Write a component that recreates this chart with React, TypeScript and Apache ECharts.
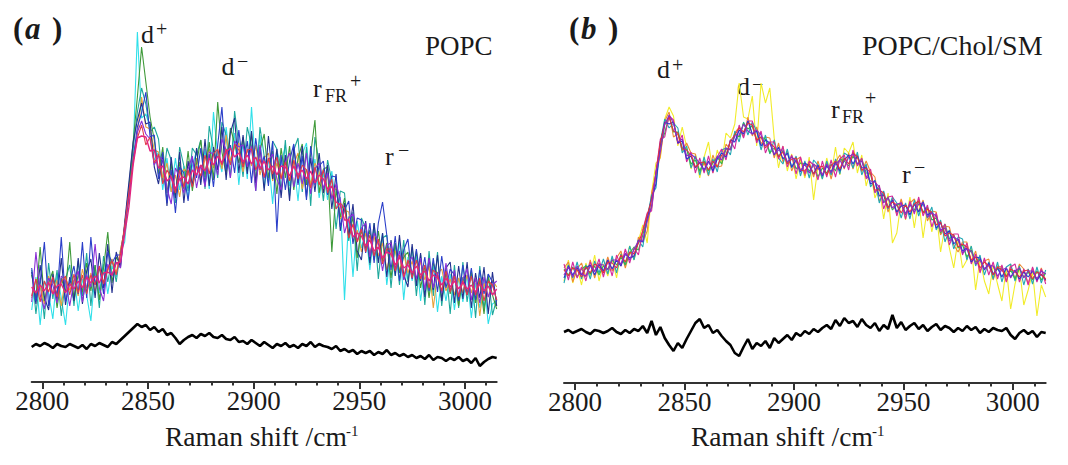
import React, { useEffect, useRef } from "react";
import * as echarts from "echarts";

// Raman shift sampling (cm^-1)
const WAVENUMBERS = [
  2795, 2797, 2799, 2801, 2803, 2805, 2807, 2809, 2811, 2813,
  2815, 2817, 2819, 2821, 2823, 2825, 2827, 2829, 2831, 2833,
  2835, 2837, 2839, 2841, 2843, 2845, 2847, 2849, 2851, 2853,
  2855, 2857, 2859, 2861, 2863, 2865, 2867, 2869, 2871, 2873,
  2875, 2877, 2879, 2881, 2883, 2885, 2887, 2889, 2891, 2893,
  2895, 2897, 2899, 2901, 2903, 2905, 2907, 2909, 2911, 2913,
  2915, 2917, 2919, 2921, 2923, 2925, 2927, 2929, 2931, 2933,
  2935, 2937, 2939, 2941, 2943, 2945, 2947, 2949, 2951, 2953,
  2955, 2957, 2959, 2961, 2963, 2965, 2967, 2969, 2971, 2973,
  2975, 2977, 2979, 2981, 2983, 2985, 2987, 2989, 2991, 2993,
  2995, 2997, 2999, 3001, 3003, 3005, 3007, 3009, 3011, 3013, 3015,
];

const MAJOR_TICKS = [2800, 2850, 2900, 2950, 3000];
const MINOR_TICKS = [
  2800, 2810, 2820, 2830, 2840, 2850, 2860, 2870, 2880, 2890, 2900,
  2910, 2920, 2930, 2940, 2950, 2960, 2970, 2980, 2990, 3000, 3010,
];

// Panel (a) POPC – repeated spectra (arbitrary intensity units)
const A_CYAN = [
  72, 105, 57, 101, 89, 63, 109, 84, 57, 101,
  106, 71, 103, 87, 61, 110, 89, 118, 88, 116,
  105, 130, 140, 190, 230, 350, 264, 268, 255, 222,
  230, 192, 224, 190, 224, 192, 216, 183, 216, 231,
  200, 233, 193, 270, 227, 210, 255, 219, 249, 197,
  240, 203, 275, 211, 247, 194, 224, 178, 231, 217,
  237, 196, 220, 181, 228, 239, 194, 223, 184, 209,
  182, 211, 173, 185, 82, 166, 105, 161, 134, 151,
  112, 152, 121, 149, 97, 132, 106, 141, 82, 125,
  101, 126, 81, 115, 86, 116, 70, 106, 81, 108,
  72, 104, 80, 107, 64, 99, 74, 103, 58, 78, 81,
];
const A_TEAL = [
  112, 68, 104, 63, 119, 83, 112, 66, 103, 117,
  76, 121, 86, 129, 76, 117, 74, 126, 100, 123,
  100, 132, 153, 192, 233, 270, 294, 278, 250, 255,
  243, 200, 234, 222, 179, 235, 216, 191, 234, 227,
  242, 193, 256, 232, 204, 260, 247, 204, 271, 237,
  205, 255, 236, 191, 255, 226, 199, 241, 233, 190,
  242, 186, 232, 244, 190, 235, 176, 245, 219, 181,
  222, 201, 153, 191, 189, 141, 170, 111, 164, 154,
  117, 159, 103, 144, 147, 94, 139, 97, 142, 100,
  135, 86, 127, 77, 131, 86, 130, 76, 114, 68,
  117, 74, 120, 80, 112, 64, 116, 73, 108, 67, 83,
];
const A_GREEN = [
  107, 85, 135, 81, 99, 111, 74, 104, 90, 140,
  81, 108, 90, 119, 91, 117, 82, 114, 150, 99,
  125, 117, 157, 195, 240, 285, 335, 300, 265, 242,
  208, 235, 189, 218, 187, 220, 193, 231, 191, 219,
  242, 205, 240, 202, 280, 230, 207, 254, 239, 219,
  245, 211, 249, 199, 232, 248, 204, 231, 188, 234,
  204, 236, 192, 224, 238, 197, 228, 262, 189, 213,
  215, 130, 193, 165, 184, 144, 165, 124, 152, 134,
  152, 122, 151, 121, 139, 104, 139, 109, 125, 130,
  105, 131, 94, 117, 84, 119, 107, 83, 111, 88,
  109, 76, 105, 87, 109, 79, 102, 68, 105, 87, 73,
];
const A_ORANGE = [
  84, 103, 95, 78, 106, 88, 102, 76, 105, 92,
  102, 86, 113, 94, 109, 90, 114, 100, 111, 123,
  109, 132, 153, 185, 225, 248, 285, 255, 253, 232,
  230, 204, 219, 190, 207, 185, 213, 209, 198, 224,
  202, 223, 233, 214, 232, 213, 247, 221, 235, 239,
  210, 233, 216, 237, 207, 224, 229, 201, 219, 204,
  224, 201, 218, 229, 193, 213, 198, 219, 210, 189,
  207, 185, 195, 163, 172, 170, 140, 152, 130, 149,
  129, 146, 126, 139, 112, 130, 131, 111, 129, 109,
  121, 101, 121, 102, 116, 74, 108, 113, 91, 103,
  87, 104, 89, 107, 89, 104, 66, 99, 85, 102, 95,
];
const A_NAVY = [
  110, 78, 117, 85, 72, 108, 82, 124, 77, 105,
  81, 124, 78, 111, 123, 84, 129, 94, 138, 89,
  130, 114, 160, 200, 240, 262, 279, 258, 260, 215,
  198, 225, 176, 225, 184, 230, 179, 221, 196, 234,
  197, 243, 196, 235, 212, 255, 202, 249, 264, 209,
  247, 208, 251, 199, 235, 191, 246, 203, 233, 184,
  227, 181, 235, 199, 236, 185, 224, 190, 229, 189,
  217, 173, 208, 151, 179, 146, 178, 131, 122, 161,
  119, 159, 119, 149, 105, 142, 106, 147, 107, 95,
  138, 96, 129, 85, 124, 92, 127, 81, 114, 120,
  79, 116, 83, 120, 74, 109, 84, 115, 68, 110, 76,
];
const A_BLUE = [
  114, 81, 100, 140, 76, 105, 86, 145, 80, 100,
  116, 88, 140, 84, 145, 97, 116, 88, 130, 119,
  127, 127, 155, 185, 223, 255, 269, 290, 245, 247,
  203, 230, 179, 212, 169, 215, 209, 181, 224, 204,
  234, 197, 228, 195, 237, 275, 212, 237, 209, 252,
  215, 241, 199, 244, 212, 226, 196, 241, 150, 227,
  192, 221, 238, 197, 226, 182, 236, 197, 216, 221,
  187, 206, 205, 155, 172, 181, 138, 164, 162, 129,
  159, 119, 159, 180, 147, 112, 146, 101, 132, 143,
  103, 133, 101, 125, 91, 124, 90, 126, 94, 113,
  107, 81, 117, 87, 114, 82, 112, 88, 108, 100, 81,
];
const A_PURPLE = [
  80, 130, 87, 73, 104, 97, 79, 106, 101, 76,
  101, 111, 80, 107, 95, 138, 94, 81, 118, 106,
  120, 114, 155, 188, 220, 250, 261, 248, 243, 217,
  226, 222, 194, 178, 214, 205, 189, 213, 226, 194,
  217, 195, 230, 228, 207, 243, 232, 204, 241, 235,
  237, 215, 236, 191, 237, 204, 222, 228, 203, 192,
  220, 229, 195, 219, 198, 229, 188, 213, 219, 193,
  209, 183, 198, 183, 149, 164, 168, 141, 154, 159,
  125, 149, 139, 111, 137, 139, 113, 131, 102, 120,
  125, 103, 124, 92, 124, 94, 110, 89, 119, 90,
  112, 86, 103, 113, 82, 104, 79, 105, 85, 97, 101,
];
const A_RED = [
  86, 103, 80, 101, 90, 105, 85, 100, 106, 87,
  108, 89, 107, 88, 107, 97, 116, 98, 113, 121,
  107, 128, 157, 190, 220, 244, 257, 237, 245, 219,
  228, 198, 212, 205, 189, 212, 195, 212, 195, 216,
  206, 227, 208, 228, 233, 217, 233, 217, 238, 232,
  215, 232, 233, 212, 223, 205, 224, 208, 225, 203,
  220, 201, 222, 203, 217, 212, 194, 215, 197, 212,
  189, 203, 173, 179, 174, 144, 158, 140, 153, 130,
  147, 126, 143, 118, 133, 133, 111, 127, 105, 122,
  104, 122, 103, 117, 94, 112, 107, 91, 111, 90,
  106, 85, 101, 87, 106, 87, 104, 81, 101, 97, 82,
];
const A_MAGENTA = [
  95, 89, 97, 91, 100, 88, 96, 98, 89, 98,
  93, 101, 94, 105, 99, 106, 99, 109, 110, 107,
  119, 120, 148, 175, 217, 244, 246, 245, 231, 232,
  214, 216, 201, 205, 193, 203, 205, 198, 212, 207,
  217, 211, 224, 217, 226, 219, 230, 234, 225, 229,
  220, 227, 218, 225, 213, 221, 212, 216, 207, 216,
  215, 206, 216, 207, 212, 203, 211, 199, 207, 203,
  193, 196, 180, 177, 162, 162, 145, 149, 146, 136,
  142, 131, 135, 124, 130, 128, 117, 125, 114, 117,
  109, 116, 107, 111, 101, 107, 104, 97, 104, 95,
  101, 93, 100, 93, 97, 90, 98, 91, 96, 87, 93,
];
const A_RESIDUAL = [
  35, 38, 36, 39, 37, 34, 38, 36, 35, 38,
  36, 34, 37, 33, 38, 36, 39, 37, 35, 40,
  38, 42, 46, 50, 54, 58, 55, 57, 52, 55,
  50, 53, 47, 49, 44, 38, 42, 45, 47, 44,
  48, 46, 49, 45, 44, 47, 43, 42, 45, 40,
  41, 38, 42, 39, 36, 40, 37, 34, 38, 36,
  39, 35, 37, 34, 38, 36, 40, 35, 38, 36,
  35, 33, 36, 31, 33, 30, 32, 28, 31, 29,
  31, 27, 30, 28, 32, 27, 29, 26, 28, 25,
  27, 24, 26, 23, 27, 22, 25, 24, 21, 24,
  22, 25, 21, 23, 19, 24, 16, 20, 23, 25, 24,
];

// Panel (b) POPC/Chol/SM – repeated spectra
const B_YELLOW = [
  102, 123, 100, 116, 98, 120, 107, 128, 102, 119,
  107, 124, 105, 130, 119, 137, 123, 142, 158, 140,
  190, 220, 225, 264, 276, 267, 237, 256, 236, 214,
  228, 205, 226, 241, 210, 233, 220, 250, 245, 259,
  300, 266, 264, 287, 237, 300, 280, 295, 245, 215,
  237, 212, 229, 204, 223, 205, 226, 183, 217, 204,
  225, 208, 236, 208, 235, 230, 241, 210, 228, 197,
  213, 185, 196, 164, 190, 140, 150, 182, 163, 186,
  155, 184, 145, 176, 151, 171, 131, 157, 135, 115,
  144, 115, 123, 137, 93, 124, 102, 89, 118, 99,
  82, 115, 74, 99, 115, 78, 93, 111, 67, 98, 86,
];
const B_ORANGE = [
  115, 121, 101, 114, 120, 106, 123, 105, 120, 111,
  126, 112, 125, 132, 115, 131, 124, 146, 141, 152,
  190, 209, 227, 262, 271, 246, 249, 232, 240, 230,
  229, 211, 220, 207, 228, 216, 217, 239, 233, 250,
  256, 246, 266, 247, 256, 239, 246, 245, 225, 240,
  221, 232, 212, 223, 226, 207, 220, 206, 222, 207,
  221, 204, 221, 228, 214, 230, 214, 228, 211, 222,
  211, 206, 182, 189, 171, 184, 169, 184, 168, 180,
  184, 171, 183, 162, 172, 171, 148, 157, 156, 138,
  131, 141, 141, 121, 132, 112, 122, 124, 103, 117,
  116, 102, 118, 104, 119, 114, 99, 115, 102, 115, 102,
];
const B_TEAL = [
  100, 118, 105, 121, 104, 118, 104, 122, 110, 124,
  109, 127, 110, 129, 118, 137, 123, 143, 136, 165,
  188, 195, 241, 264, 255, 260, 255, 230, 237, 215,
  227, 208, 226, 208, 224, 211, 233, 235, 228, 252,
  241, 261, 248, 261, 252, 233, 248, 229, 243, 225,
  219, 234, 215, 227, 207, 222, 205, 223, 218, 204,
  222, 208, 224, 209, 230, 227, 215, 231, 208, 219,
  196, 203, 180, 192, 174, 186, 180, 165, 180, 164,
  183, 167, 181, 165, 176, 153, 163, 141, 153, 134,
  146, 144, 123, 137, 117, 128, 108, 121, 104, 121,
  101, 116, 119, 102, 117, 98, 114, 99, 116, 100, 113,
];
const B_GREEN = [
  114, 108, 116, 106, 114, 117, 109, 117, 108, 117,
  114, 123, 118, 126, 118, 130, 136, 133, 148, 166,
  175, 209, 238, 250, 267, 251, 251, 235, 234, 219,
  223, 212, 222, 212, 220, 226, 219, 234, 234, 249,
  246, 260, 254, 257, 242, 246, 244, 230, 235, 227,
  232, 220, 227, 214, 220, 219, 212, 218, 206, 215,
  210, 219, 212, 224, 222, 217, 227, 219, 224, 210,
  209, 191, 195, 181, 186, 173, 178, 179, 168, 178,
  173, 182, 171, 176, 163, 165, 150, 159, 144, 148,
  135, 138, 126, 133, 121, 124, 114, 119, 108, 114,
  115, 107, 113, 104, 115, 106, 111, 103, 112, 103, 110,
];
const B_MAGENTA = [
  119, 103, 121, 105, 116, 102, 121, 111, 124, 106,
  123, 107, 128, 117, 134, 120, 135, 128, 153, 170,
  172, 211, 244, 246, 267, 263, 239, 248, 221, 231,
  210, 225, 210, 227, 210, 226, 234, 223, 243, 234,
  258, 245, 262, 262, 240, 252, 230, 241, 241, 224,
  237, 216, 228, 209, 226, 209, 222, 218, 203, 222,
  206, 223, 206, 224, 228, 213, 233, 217, 225, 204,
  214, 190, 198, 174, 186, 187, 167, 181, 164, 182,
  169, 186, 167, 178, 156, 170, 151, 159, 138, 149,
  149, 128, 140, 119, 129, 110, 125, 108, 121, 104,
  118, 101, 116, 119, 101, 114, 98, 116, 101, 114, 99,
];
const B_BLUE = [
  105, 117, 108, 115, 108, 115, 118, 108, 118, 112,
  123, 114, 123, 117, 129, 125, 127, 143, 141, 164,
  185, 199, 239, 261, 259, 261, 240, 242, 224, 227,
  215, 221, 213, 222, 212, 224, 230, 226, 243, 241,
  253, 249, 262, 249, 252, 237, 243, 240, 228, 236,
  224, 230, 216, 223, 211, 220, 217, 209, 218, 207,
  217, 211, 221, 212, 223, 228, 219, 227, 215, 216,
  199, 202, 187, 188, 175, 183, 171, 177, 178, 168,
  179, 171, 181, 168, 171, 155, 160, 149, 152, 139,
  144, 132, 135, 121, 126, 125, 113, 120, 109, 115,
  106, 115, 106, 113, 104, 111, 106, 112, 103, 109, 103,
];
const B_RED = [
  113, 107, 115, 113, 106, 116, 110, 119, 116, 110,
  121, 120, 115, 128, 121, 131, 129, 140, 152, 168,
  183, 210, 241, 259, 266, 252, 250, 234, 233, 228,
  216, 220, 221, 213, 222, 216, 228, 228, 242, 248,
  255, 251, 260, 258, 243, 246, 235, 240, 236, 226,
  231, 219, 224, 225, 213, 212, 219, 209, 215, 217,
  208, 217, 222, 214, 225, 219, 230, 226, 213, 215,
  210, 193, 193, 190, 175, 181, 178, 170, 178, 171,
  179, 182, 170, 174, 170, 158, 161, 147, 150, 148,
  136, 139, 136, 123, 126, 115, 121, 117, 108, 116,
  113, 106, 114, 111, 106, 112, 113, 104, 111, 108, 104,
];
const B_PURPLE = [
  108, 116, 106, 117, 109, 107, 117, 112, 119, 118,
  113, 123, 123, 119, 130, 123, 134, 142, 142, 162,
  177, 211, 231, 258, 268, 260, 241, 244, 227, 229,
  225, 220, 212, 221, 215, 227, 223, 235, 233, 247,
  248, 259, 252, 249, 253, 248, 237, 241, 229, 233,
  233, 221, 226, 222, 212, 219, 210, 219, 215, 208,
  219, 210, 219, 223, 215, 226, 229, 219, 222, 207,
  202, 201, 196, 180, 185, 175, 179, 180, 169, 179,
  171, 179, 180, 166, 170, 167, 153, 155, 142, 146,
  143, 130, 134, 132, 119, 123, 114, 118, 117, 107,
  113, 115, 105, 112, 115, 105, 112, 112, 104, 112, 109,
];
const B_RESIDUAL = [
  51, 53, 50, 52, 54, 51, 49, 53, 52, 50,
  52, 55, 51, 49, 53, 50, 54, 52, 57, 50,
  62, 48, 56, 45, 38, 32, 40, 35, 44, 52,
  60, 64, 55, 58, 50, 53, 47, 42, 38, 30,
  27, 36, 44, 34, 40, 37, 42, 35, 45, 40,
  44, 48, 43, 50, 47, 52, 49, 54, 51, 55,
  58, 54, 63, 57, 65, 60, 62, 56, 64, 58,
  55, 60, 52, 58, 54, 68, 55, 61, 53, 57,
  60, 54, 58, 52, 56, 59, 53, 57, 55, 51,
  55, 52, 57, 53, 56, 50, 54, 51, 55, 53,
  52, 55, 48, 44, 50, 53, 49, 52, 46, 51, 50,
];

const SERIF = "'Liberation Serif', 'Times New Roman', serif";

function pairs(values: number[]) {
  return WAVENUMBERS.map((w, i) => [w, values[i]]);
}

function txt(x: number, y: number, text: string, fontSize: number, extra: any = {}) {
  return {
    type: "text",
    x,
    y,
    silent: true,
    style: {
      text,
      fontSize,
      fontFamily: SERIF,
      fill: "#1a1a1a",
      verticalAlign: "middle",
      align: "left",
      ...extra,
    },
  };
}

export default function App() {
  const ref = useRef<HTMLDivElement>(null);

  useEffect(() => {
    if (!ref.current) return;
    const chart = echarts.init(ref.current, null, { renderer: "svg" });
    const axisColor = "#333333";

    const majorAxis = (gridIndex: number) => ({
      type: "value",
      gridIndex,
      position: "bottom",
      min: 2795,
      max: 3015,
      axisLine: { show: true, onZero: false, lineStyle: { color: axisColor, width: 2 } },
      axisTick: {
        show: true,
        inside: false,
        length: 7,
        customValues: MAJOR_TICKS,
        lineStyle: { color: axisColor, width: 2 },
      },
      axisLabel: {
        show: true,
        customValues: MAJOR_TICKS,
        formatter: (v: number) => String(v),
        margin: 5,
        fontFamily: SERIF,
        fontSize: 27,
        color: "#1a1a1a",
      },
      splitLine: { show: false },
    });
    const minorAxis = (gridIndex: number) => ({
      type: "value",
      gridIndex,
      position: "bottom",
      min: 2795,
      max: 3015,
      axisLine: { show: false, onZero: false },
      axisTick: {
        show: true,
        inside: false,
        length: 3.5,
        customValues: MINOR_TICKS,
        lineStyle: { color: axisColor, width: 2 },
      },
      axisLabel: { show: false },
      splitLine: { show: false },
    });
    const yAxis = (gridIndex: number) => ({
      type: "value",
      gridIndex,
      min: 0,
      max: 360,
      show: false,
    });

    const line = (xi: number, yi: number, values: number[], color: string, width = 1.1, z = 2) => ({
      type: "line",
      xAxisIndex: xi,
      yAxisIndex: yi,
      data: pairs(values),
      showSymbol: false,
      symbol: "none",
      silent: true,
      z,
      lineStyle: { color, width },
    });

    chart.setOption({
      animation: false,
      backgroundColor: "#ffffff",
      grid: [
        { left: 31.7, top: 22, width: 465, height: 360 },
        { left: 564, top: 23, width: 481.7, height: 360 },
      ],
      xAxis: [majorAxis(0), minorAxis(0), majorAxis(1), minorAxis(1)],
      yAxis: [yAxis(0), yAxis(1)],
      series: [
        line(0, 0, A_CYAN, "#30e0ea"),
        line(0, 0, A_TEAL, "#1ea89c"),
        line(0, 0, A_ORANGE, "#e8a23a"),
        line(0, 0, A_GREEN, "#3f9a3a"),
        line(0, 0, A_NAVY, "#24318f"),
        line(0, 0, A_BLUE, "#2b3fc9"),
        line(0, 0, A_PURPLE, "#8b2fd6"),
        line(0, 0, A_RED, "#e23a4a"),
        line(0, 0, A_MAGENTA, "#e2247f", 1.4),
        line(0, 0, A_RESIDUAL, "#000000", 2.6),
        line(2, 1, B_YELLOW, "#f2ec2a"),
        line(2, 1, B_ORANGE, "#ee8a32"),
        line(2, 1, B_TEAL, "#22a8b4"),
        line(2, 1, B_GREEN, "#35b84a"),
        line(2, 1, B_MAGENTA, "#d42a9c"),
        line(2, 1, B_BLUE, "#2a34d0"),
        line(2, 1, B_RED, "#e23040"),
        line(2, 1, B_PURPLE, "#8c2cc4"),
        line(2, 1, B_RESIDUAL, "#000000", 2.6),
      ],
      graphic: [
        // panel (a)
        txt(13, 28, "(", 31, { fontWeight: "bold" }),
        txt(25, 28, "a", 31, { fontWeight: "bold", fontStyle: "italic" }),
        txt(52, 28, ")", 31, { fontWeight: "bold" }),
        txt(425, 45.8, "POPC", 27),
        txt(141, 34.2, "d", 26),
        txt(156, 29.2, "+", 20),
        txt(221.5, 66.2, "d", 26),
        txt(237, 61.2, "\u2212", 20),
        txt(313, 88.2, "r", 26),
        txt(325, 95.9, "FR", 18),
        txt(350, 81.2, "+", 20),
        txt(385, 156.2, "r", 26),
        txt(398, 150.2, "\u2212", 20),
        txt(165, 436.8, "Raman shift /cm", 27.5),
        txt(346, 431, "-1", 15),
        // panel (b)
        txt(569, 28, "(", 31, { fontWeight: "bold" }),
        txt(581, 28, "b", 31, { fontWeight: "bold", fontStyle: "italic" }),
        txt(608, 28, ")", 31, { fontWeight: "bold" }),
        txt(862, 45.5, "POPC/Chol/SM", 28),
        txt(657, 69.2, "d", 26),
        txt(672, 65.2, "+", 20),
        txt(737, 86.2, "d", 26),
        txt(752, 84.2, "\u2212", 20),
        txt(831, 109.2, "r", 26),
        txt(842, 116.9, "FR", 18),
        txt(865, 98.2, "+", 20),
        txt(902, 174.2, "r", 26),
        txt(914, 167.2, "\u2212", 20),
        txt(691, 436.8, "Raman shift /cm", 27.5),
        txt(872, 431, "-1", 15),
      ],
    });

    return () => {
      chart.dispose();
    };
  }, []);

  return (
    <div
      ref={ref}
      style={{ position: "absolute", left: 0, top: 0, width: 1068, height: 465, background: "#fff" }}
    />
  );
}
